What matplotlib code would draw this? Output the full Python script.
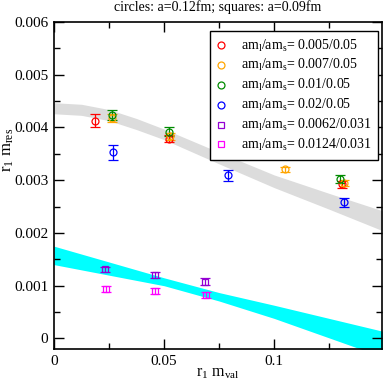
import matplotlib
matplotlib.use("Agg")
import matplotlib.pyplot as plt
from matplotlib.lines import Line2D

plt.rcParams['font.family'] = ['Liberation Serif', 'DejaVu Serif']
plt.rcParams['mathtext.fontset'] = 'custom'
plt.rcParams['mathtext.rm'] = 'Liberation Serif'
plt.rcParams['mathtext.it'] = 'Liberation Serif:italic'

# data (units of 1e-3 for y)
red_x = [0.0186, 0.0523, 0.0790, 0.1308]
red_y = [4.13, 3.79, 3.48, 2.92]
red_e = [0.12, 0.06, 0.07, 0.06]

orange_x = [0.0262, 0.0525, 0.0785, 0.1047, 0.1315]
orange_y = [4.18, 3.83, 3.50, 3.21, 2.95]
orange_e = [0.07, 0.06, 0.06, 0.05, 0.05]

green_x = [0.0262, 0.0522, 0.0780, 0.1300]
green_y = [4.24, 3.92, 3.59, 3.02]
green_e = [0.10, 0.09, 0.08, 0.08]

blue_x = [0.0267, 0.0792, 0.1318]
blue_y = [3.53, 3.09, 2.58]
blue_e = [0.14, 0.11, 0.08]

purple_x = [0.0232, 0.0458, 0.0685]
purple_y = [1.31, 1.20, 1.08]
purple_e = [0.05, 0.06, 0.06]

magenta_x = [0.0235, 0.0460, 0.0690]
magenta_y = [0.94, 0.90, 0.83]
magenta_e = [0.06, 0.06, 0.06]

# fit bands
gray_x = [0.0, 0.0125, 0.025, 0.0375, 0.05, 0.075, 0.1, 0.125, 0.15]
gray_hi = [4.47, 4.44, 4.34, 4.17, 3.97, 3.53, 3.10, 2.75, 2.41]
gray_lo = [4.26, 4.23, 4.13, 3.96, 3.77, 3.31, 2.86, 2.45, 2.03]

cyan_x = [0.0, 0.025, 0.05, 0.075, 0.1, 0.125, 0.15]
cyan_hi = [1.75, 1.45, 1.15, 0.87, 0.63, 0.38, 0.13]
cyan_lo = [1.40, 1.20, 1.00, 0.71, 0.38, 0.01, -0.36]

labels = ['0.005/0.05', '0.007/0.05', '0.01/0.05', '0.02/0.05',
          '0.0062/0.031', '0.0124/0.031']

fig = plt.figure(figsize=(3.84, 3.84), dpi=100)
ax = fig.add_axes([0.1406, 0.0911, 0.8544, 0.8516])

s = 1e-3
ax.fill_between(gray_x, [v * s for v in gray_lo], [v * s for v in gray_hi],
                color='#dcdcdc', lw=0)
ax.fill_between(cyan_x, [v * s for v in cyan_lo], [v * s for v in cyan_hi],
                color='#00ffff', lw=0)

series = [
    (red_x, red_y, red_e, '#ff0000', 'o'),
    (orange_x, orange_y, orange_e, '#ffa500', 'o'),
    (green_x, green_y, green_e, '#008b00', 'o'),
    (blue_x, blue_y, blue_e, '#0000ff', 'o'),
    (purple_x, purple_y, purple_e, '#9400d3', 's'),
    (magenta_x, magenta_y, magenta_e, '#ff00ff', 's'),
]

handles = []
for (xs, ys, es, c, m), lab in zip(series, labels):
    ms = 5 if m == 'o' else 4.3
    ax.errorbar(xs, [v * s for v in ys], yerr=[v * s for v in es], fmt=m,
                mfc='none', mec=c, ecolor=c, ms=ms, mew=0.9, elinewidth=0.9,
                capsize=3.5, capthick=0.9)
    handles.append(Line2D([], [], ls='none', marker=m, mfc='none', mec=c,
                          ms=ms, mew=0.9,
                          label=r'am$_\mathrm{l}$/am$_\mathrm{s}$= ' + lab))

ax.set_xlim(0, 0.149)
ax.set_ylim(-0.0002, 0.006)
ax.set_xticks([0, 0.05, 0.1])
ax.set_xticklabels(['0', '0.05', '0.1'])
ax.set_xticks([0.025, 0.075, 0.125], minor=True)
ax.set_yticks([0, 0.001, 0.002, 0.003, 0.004, 0.005, 0.006])
ax.set_yticklabels(['0', '0.001', '0.002', '0.003', '0.004', '0.005', '0.006'])
ax.set_yticks([0.0005, 0.0015, 0.0025, 0.0035, 0.0045, 0.0055], minor=True)
ax.tick_params(which='both', direction='in', top=True, right=True,
               labelsize=11, width=1, pad=4)
ax.tick_params(which='major', length=7)
ax.tick_params(which='minor', length=4)
for sp in ax.spines.values():
    sp.set_linewidth(1.2)

ax.set_title('circles: a=0.12fm; squares: a=0.09fm', fontsize=10, pad=8)
ax.set_xlabel(r'r$_1$ m$_\mathrm{val}$', fontsize=11.5)
ax.set_ylabel(r'r$_1$ m$_\mathrm{res}$', fontsize=12)
ax.yaxis.set_label_coords(-0.115, 0.61)
ax.xaxis.set_label_coords(0.5, -0.05)

leg = ax.legend(handles=handles, loc='upper right', bbox_to_anchor=(0.988, 0.972),
                borderaxespad=0, fontsize=10, frameon=True, fancybox=False,
                framealpha=1, edgecolor='black', handlelength=0.8,
                handletextpad=1.0, labelspacing=0.28, borderpad=0.45)
leg.get_frame().set_linewidth(1)

fig.savefig('out.png', dpi=100)
